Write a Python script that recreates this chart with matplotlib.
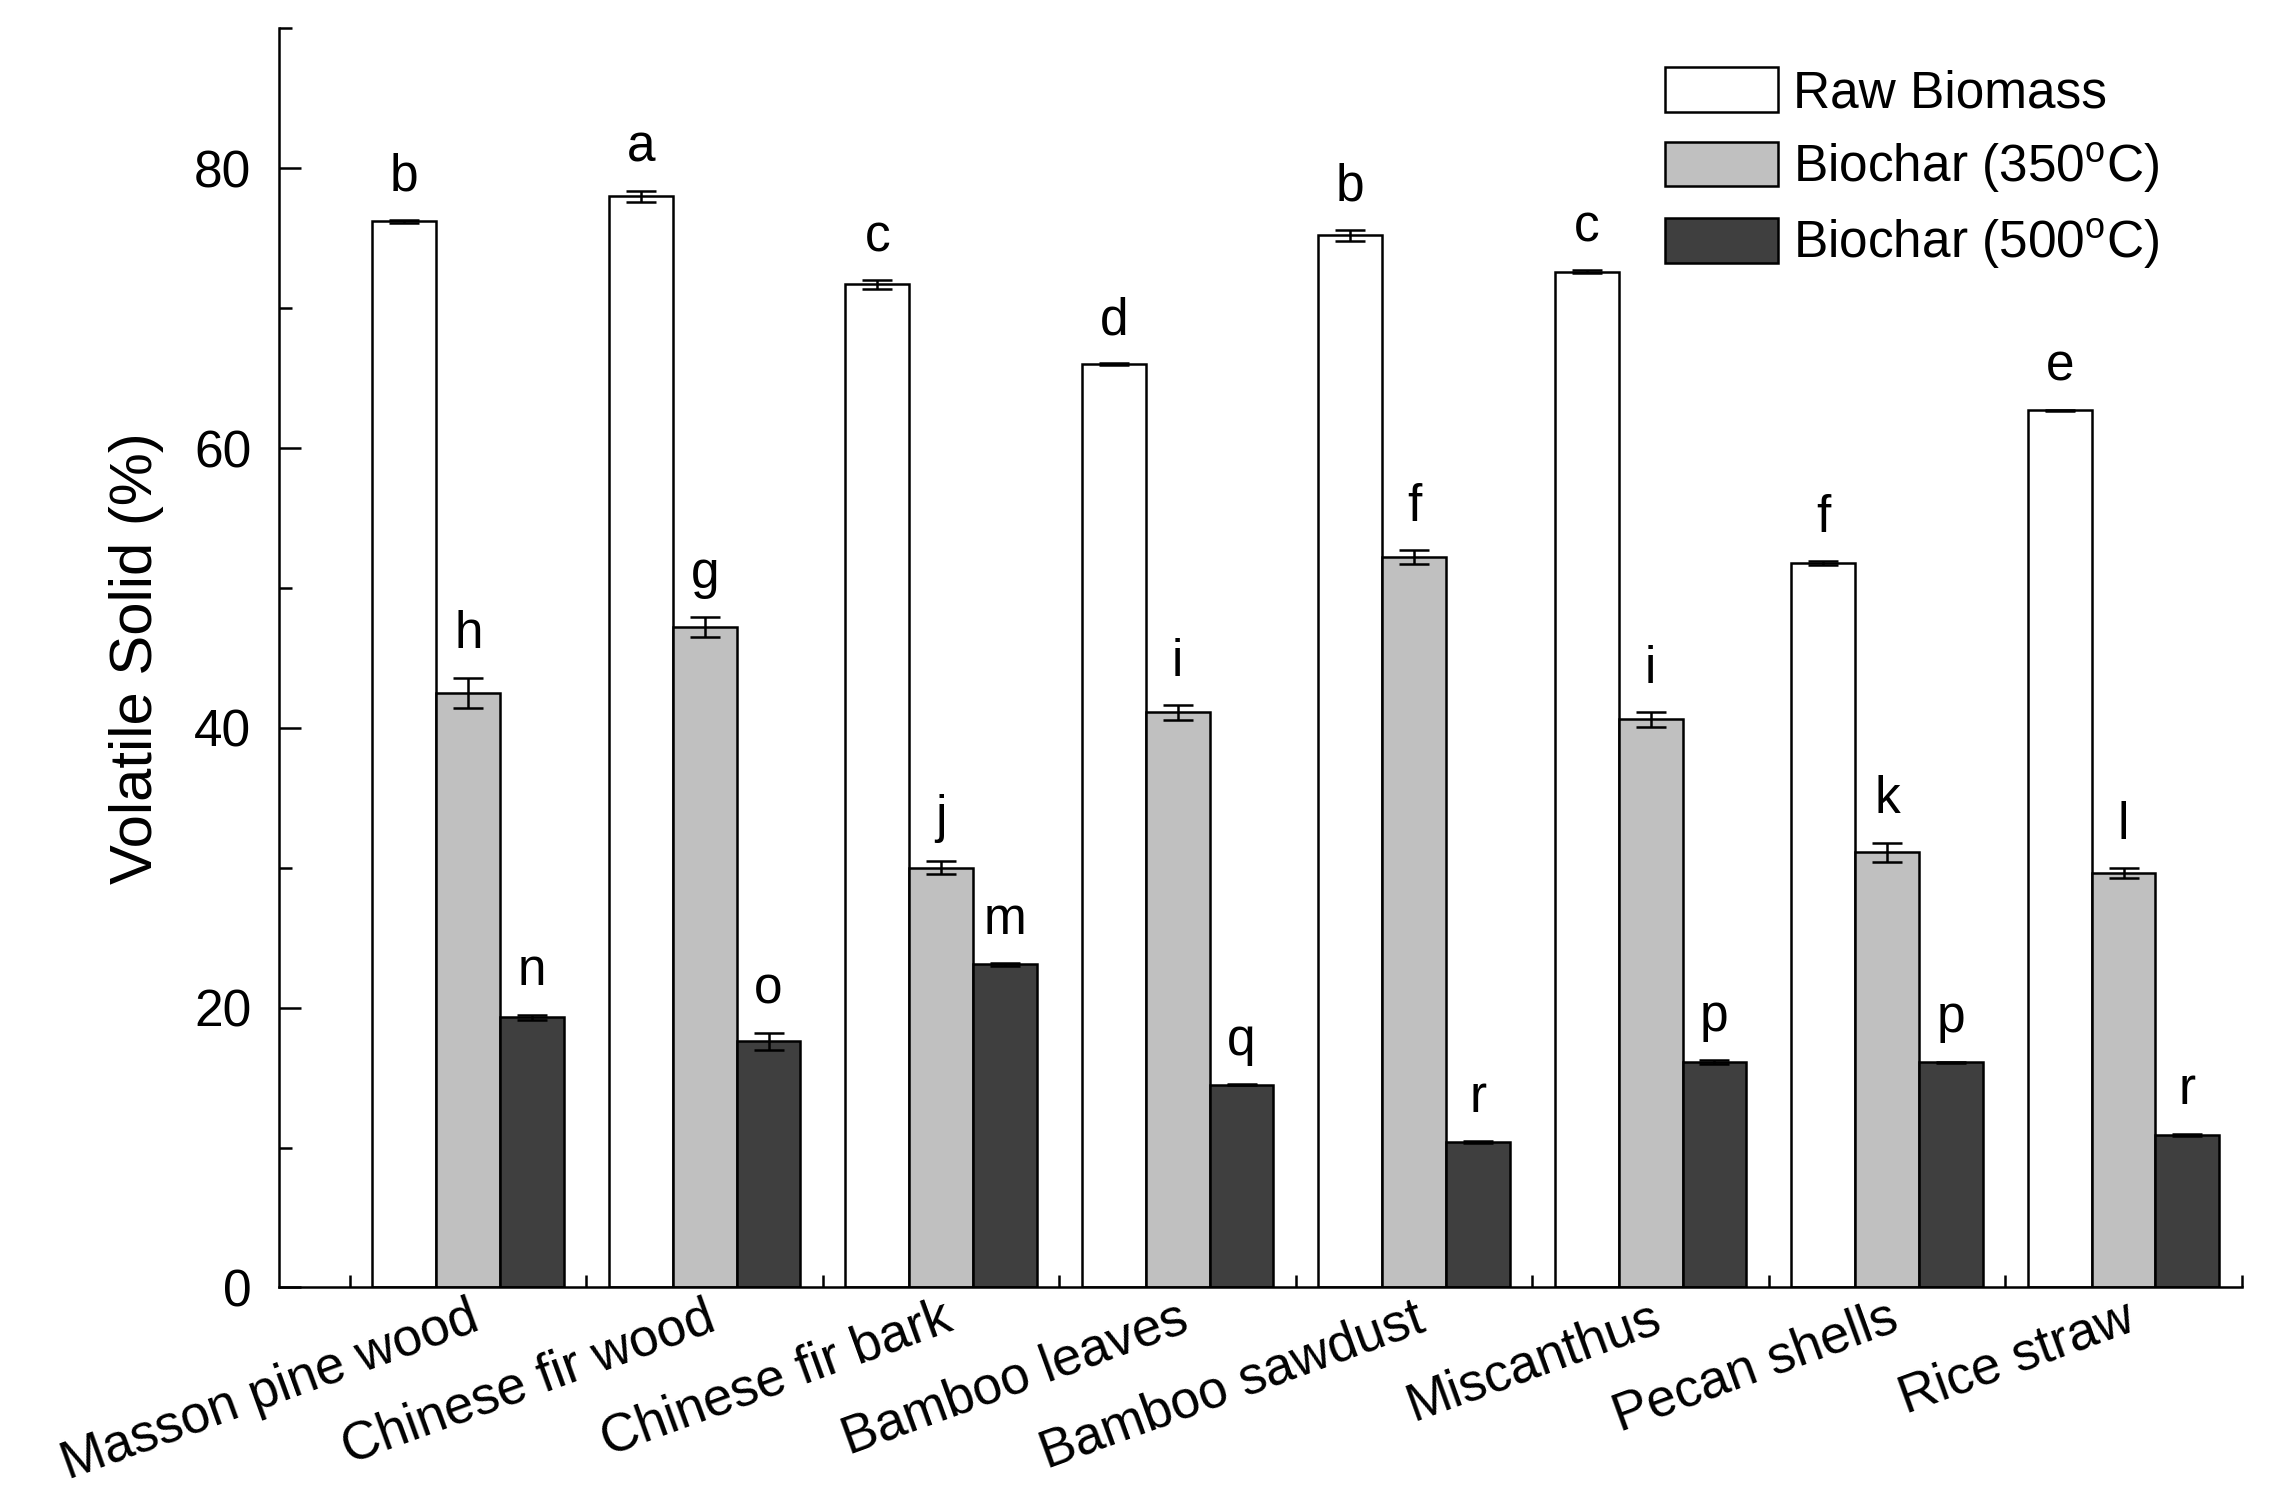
import numpy as np
import matplotlib
matplotlib.use("Agg")
import matplotlib.pyplot as plt
from matplotlib.ticker import FixedLocator, MultipleLocator

plt.rcParams["font.family"] = ["Liberation Sans", "DejaVu Sans"]
plt.rcParams["mathtext.fontset"] = "custom"
plt.rcParams["mathtext.rm"] = "Liberation Sans"

feedstocks = ["Masson pine wood", "Chinese fir wood", "Chinese fir bark", "Bamboo leaves",
              "Bamboo sawdust", "Miscanthus", "Pecan shells", "Rice straw"]
series = ["Raw Biomass", "Biochar (350$^{\\mathrm{o}}$C)", "Biochar (500$^{\\mathrm{o}}$C)"]

raw = [76.2, 78.0, 71.7, 66.0, 75.2, 72.6, 51.8, 62.7]
raw_err = [0.1, 0.4, 0.3, 0.05, 0.4, 0.1, 0.15, 0.05]
bc350 = [42.5, 47.2, 30.0, 41.1, 52.2, 40.6, 31.1, 29.6]
bc350_err = [1.1, 0.7, 0.45, 0.55, 0.5, 0.55, 0.7, 0.35]
bc500 = [19.3, 17.6, 23.1, 14.5, 10.4, 16.1, 16.1, 10.9]
bc500_err = [0.2, 0.6, 0.1, 0.05, 0.05, 0.15, 0.05, 0.1]

raw_letters = ["b", "a", "c", "d", "b", "c", "f", "e"]
bc350_letters = ["h", "g", "j", "i", "f", "i", "k", "l"]
bc500_letters = ["n", "o", "m", "q", "r", "p", "p", "r"]

FS = 37      # tick labels, letters, legend
colors = ["white", "#c0c0c0", "#3f3f3f"]

fig = plt.figure(figsize=(22.69, 14.97), dpi=100)
ax = fig.add_axes([0.123, 0.140, 0.865, 0.841])

x = np.arange(len(feedstocks))
w = 0.27
data = [(raw, raw_err, raw_letters), (bc350, bc350_err, bc350_letters),
        (bc500, bc500_err, bc500_letters)]
for k, (vals, errs, lets) in enumerate(data):
    xs = x + (k - 1) * w
    ax.bar(xs, vals, w, color=colors[k], edgecolor="black", linewidth=1.8,
           label=series[k], zorder=2)
    ax.errorbar(xs, vals, yerr=errs, fmt="none", ecolor="black", elinewidth=1.8,
                capsize=11, capthick=1.8, zorder=3)
    for xi, v, e, t in zip(xs, vals, errs, lets):
        ax.annotate(t, (xi, v + e), xytext=(0, 21), textcoords="offset points",
                    ha="center", va="baseline", fontsize=FS)

ax.set_xlim(-0.8, 7.5)
ax.set_ylim(0, 90)
ax.yaxis.set_major_locator(FixedLocator([0, 20, 40, 60, 80]))
ax.yaxis.set_minor_locator(MultipleLocator(10))
ax.set_xticks(x)
ax.set_xticklabels(feedstocks, rotation=20, ha="right", va="top",
                   rotation_mode="anchor", fontsize=38)
ax.xaxis.set_minor_locator(FixedLocator(np.arange(-0.5, 8, 1.0)))
ax.tick_params(axis="y", which="major", direction="in", length=16, width=1.8,
               labelsize=FS, pad=20)
ax.tick_params(axis="y", which="minor", direction="in", length=9, width=1.8)
ax.tick_params(axis="x", which="major", direction="in", length=3, width=1.0, pad=4)
ax.tick_params(axis="x", which="minor", direction="in", length=9, width=1.8)
for s in ["top", "right"]:
    ax.spines[s].set_visible(False)
for s in ["left", "bottom"]:
    ax.spines[s].set_linewidth(1.8)

ax.set_ylabel("Volatile Solid (%)", fontsize=43, labelpad=22)

ax.legend(loc="upper left", bbox_to_anchor=(0.706, 0.969), frameon=False,
          fontsize=FS, handlelength=2.2, handleheight=0.95, labelspacing=0.42,
          handletextpad=0.3, borderpad=0, borderaxespad=0)

fig.savefig("out.png", dpi=100)
